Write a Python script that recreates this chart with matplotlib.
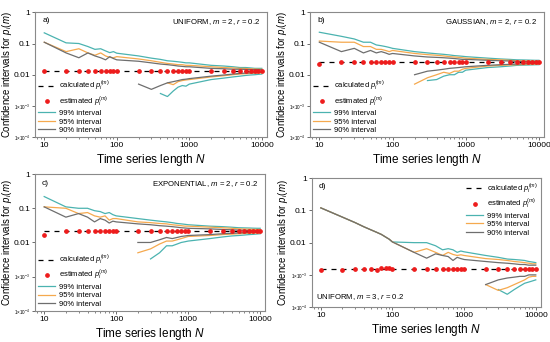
import matplotlib
matplotlib.use("Agg")
import matplotlib.pyplot as plt
from matplotlib.ticker import FixedLocator, LogLocator, NullFormatter

plt.rcParams['font.family'] = ['Liberation Sans', 'DejaVu Sans']
plt.rcParams['mathtext.fontset'] = 'custom'
plt.rcParams['mathtext.it'] = 'Liberation Sans:italic'
plt.rcParams['mathtext.rm'] = 'Liberation Sans'

# time series lengths
N = [10, 20, 30, 40, 50, 60, 70, 80, 90, 100,
     200, 300, 400, 500, 600, 700, 800, 900, 1000,
     2000, 3000, 4000, 5000, 6000, 7000, 8000, 9000, 10000]
N_low = N[10:]  # lower bounds only exist from N=200 on

# ---- a) UNIFORM, m=2
a_calc = 0.013
a_est = [0.013] * 28
a_up99 = [0.22, 0.105, 0.1, 0.08, 0.065, 0.068, 0.058, 0.051, 0.055, 0.049,
          0.04, 0.034, 0.031, 0.028, 0.027, 0.026, 0.025, 0.024, 0.024,
          0.02, 0.019, 0.018, 0.017, 0.017, 0.0165, 0.016, 0.016, 0.016]
a_up95 = [0.11, 0.055, 0.068, 0.05, 0.042, 0.05, 0.04, 0.036, 0.035, 0.038,
          0.032, 0.028, 0.025, 0.023, 0.022, 0.021, 0.021, 0.02, 0.02,
          0.018, 0.017, 0.0165, 0.016, 0.0158, 0.0155, 0.0152, 0.015, 0.015]
a_up90 = [0.11, 0.05, 0.035, 0.05, 0.04, 0.035, 0.03, 0.038, 0.033, 0.03,
          0.027, 0.024, 0.022, 0.021, 0.02, 0.019, 0.0185, 0.018, 0.018,
          0.016, 0.0155, 0.015, 0.015, 0.0148, 0.0147, 0.0146, 0.0145, 0.0145]
a_lo99 = [None, None, 0.0025, 0.002, 0.003, 0.004, 0.0045, 0.0043, 0.005,
          0.007, 0.0078, 0.0085, 0.009, 0.0095, 0.0098, 0.01, 0.0103, 0.0105]
a_lo95 = [None, None, None, 0.0055, 0.0048, 0.006, 0.0065, 0.0068, 0.007,
          0.0085, 0.0093, 0.01, 0.0105, 0.0108, 0.011, 0.0112, 0.0114, 0.0115]
a_lo90 = [0.005, 0.0034, 0.0045, 0.0055, 0.006, 0.0065, 0.007, 0.0072, 0.0075,
          0.009, 0.0098, 0.0105, 0.011, 0.0113, 0.0115, 0.0117, 0.0119, 0.012]

# ---- b) GAUSSIAN, m=2
b_calc = 0.025
b_est = [0.022] + [0.025] * 27
b_up99 = [0.23, 0.17, 0.14, 0.11, 0.11, 0.09, 0.085, 0.08, 0.075, 0.07,
          0.055, 0.05, 0.047, 0.045, 0.043, 0.041, 0.04, 0.039, 0.038,
          0.034, 0.032, 0.031, 0.03, 0.0298, 0.0295, 0.0292, 0.029, 0.029]
b_up95 = [0.12, 0.11, 0.11, 0.08, 0.08, 0.065, 0.065, 0.06, 0.055, 0.06,
          0.048, 0.044, 0.042, 0.04, 0.038, 0.037, 0.036, 0.035, 0.034,
          0.031, 0.03, 0.029, 0.028, 0.0278, 0.0275, 0.0272, 0.027, 0.027]
b_up90 = [0.11, 0.055, 0.07, 0.05, 0.06, 0.05, 0.055, 0.05, 0.045, 0.048,
          0.04, 0.037, 0.036, 0.035, 0.034, 0.033, 0.032, 0.031, 0.031,
          0.029, 0.028, 0.0275, 0.027, 0.0267, 0.0265, 0.0262, 0.026, 0.026]
b_lo99 = [None, 0.0065, 0.007, 0.009, 0.01, 0.01, 0.012, 0.012, 0.014,
          0.017, 0.018, 0.019, 0.02, 0.0203, 0.0205, 0.0207, 0.0209, 0.021]
b_lo95 = [0.005, 0.008, 0.01, 0.012, 0.011, 0.013, 0.013, 0.015, 0.016,
          0.019, 0.02, 0.0205, 0.021, 0.0212, 0.0214, 0.0216, 0.0218, 0.022]
b_lo90 = [0.01, 0.013, 0.014, 0.015, 0.016, 0.0165, 0.017, 0.0175, 0.018,
          0.02, 0.021, 0.0215, 0.022, 0.0223, 0.0225, 0.0227, 0.0229, 0.023]

# ---- c) EXPONENTIAL, m=2
c_calc = 0.021
c_est = [0.017] + [0.021] * 27
c_up99 = [0.22, 0.11, 0.1, 0.1, 0.085, 0.08, 0.07, 0.075, 0.065, 0.06,
          0.05, 0.045, 0.042, 0.04, 0.038, 0.036, 0.035, 0.034, 0.033,
          0.03, 0.029, 0.028, 0.027, 0.0267, 0.0265, 0.0262, 0.026, 0.026]
c_up95 = [0.11, 0.1, 0.07, 0.075, 0.06, 0.055, 0.06, 0.045, 0.05, 0.05,
          0.04, 0.038, 0.036, 0.035, 0.033, 0.032, 0.031, 0.03, 0.03,
          0.028, 0.027, 0.026, 0.025, 0.0247, 0.0245, 0.0242, 0.024, 0.024]
c_up90 = [0.11, 0.055, 0.07, 0.055, 0.04, 0.05, 0.045, 0.037, 0.042, 0.04,
          0.035, 0.033, 0.031, 0.03, 0.029, 0.028, 0.027, 0.0265, 0.026,
          0.025, 0.024, 0.0235, 0.023, 0.0227, 0.0225, 0.0222, 0.022, 0.022]
c_lo99 = [None, 0.0033, 0.005, 0.008, 0.008, 0.009, 0.01, 0.0105, 0.011,
          0.013, 0.0145, 0.0155, 0.016, 0.0165, 0.017, 0.0173, 0.0177, 0.018]
c_lo95 = [0.005, 0.0065, 0.009, 0.011, 0.011, 0.012, 0.013, 0.014, 0.015,
          0.016, 0.017, 0.0175, 0.018, 0.0183, 0.0186, 0.0188, 0.019, 0.019]
c_lo90 = [0.01, 0.01, 0.012, 0.014, 0.013, 0.014, 0.015, 0.0155, 0.016,
          0.017, 0.018, 0.0185, 0.019, 0.0193, 0.0195, 0.0197, 0.0199, 0.02]

# ---- d) UNIFORM, m=3
d_calc = 0.0015
d_est = [0.0014, 0.00145, 0.0015, 0.0015, 0.0015, 0.00145, 0.0016, 0.0016, 0.0016, 0.0015,
         0.0015, 0.0015, 0.0015, 0.0015, 0.0015, 0.0015, 0.0015, 0.0015, 0.0015,
         0.0015, 0.0015, 0.0015, 0.0015, 0.0015, 0.0015, 0.0015, 0.0015, 0.0015]
d_small = [0.12, 0.062, 0.042, 0.031, 0.025, 0.021, 0.018, 0.015, 0.0128, 0.0105]
d_up99 = d_small + [0.01, 0.01, 0.008, 0.006, 0.0065, 0.006, 0.005, 0.0055, 0.0052,
                    0.004, 0.0035, 0.0031, 0.003, 0.0029, 0.0028, 0.0026, 0.0025, 0.0024]
d_up95 = d_small + [0.005, 0.0065, 0.005, 0.004, 0.005, 0.0043, 0.004, 0.0042, 0.004,
                    0.0032, 0.003, 0.0028, 0.0026, 0.0025, 0.0024, 0.0023, 0.0022, 0.0022]
d_up90 = d_small + [0.005, 0.0033, 0.0045, 0.004, 0.0037, 0.0028, 0.0035, 0.0032, 0.003,
                    0.0026, 0.0024, 0.0023, 0.0022, 0.0021, 0.0021, 0.002, 0.002, 0.002]
d_lo99 = [None] * 10 + [0.00035, 0.00025, 0.00035, 0.00045, 0.00055, 0.0006, 0.00065, 0.0007]
d_lo95 = [None] * 9 + [0.0005, 0.00033, 0.0004, 0.0005, 0.0006, 0.0007, 0.00085, 0.0009, 0.0009]
d_lo90 = [None] * 9 + [0.0005, 0.0007, 0.0008, 0.00085, 0.0009, 0.0009, 0.001, 0.001, 0.001]

panels = [
    ("a)", "UNIFORM, $m$ = 2, $r$ = 0.2", a_calc, a_est, a_up99, a_up95, a_up90, a_lo99, a_lo95, a_lo90),
    ("b)", "GAUSSIAN, $m$ = 2, $r$ = 0.2", b_calc, b_est, b_up99, b_up95, b_up90, b_lo99, b_lo95, b_lo90),
    ("c)", "EXPONENTIAL, $m$ = 2, $r$ = 0.2", c_calc, c_est, c_up99, c_up95, c_up90, c_lo99, c_lo95, c_lo90),
    ("d)", "UNIFORM, $m$ = 3, $r$ = 0.2", d_calc, d_est, d_up99, d_up95, d_up90, d_lo99, d_lo95, d_lo90),
]
rects = [[0.064, 0.599, 0.421, 0.365],
         [0.564, 0.599, 0.425, 0.365],
         [0.064, 0.091, 0.418, 0.400],
         [0.567, 0.102, 0.416, 0.377]]
label_x = [-0.093, -0.092, -0.093, -0.094]

teal = "#4bb3b0"
orange = "#f5a94e"
gray = "#6e6e6e"
red = "#ee1c1c"

yticks = [1e-4, 1e-3, 0.01, 0.1, 1]
ylabels = ["1×10$^{-4}$", "1×10$^{-3}$", "0.01", "0.1", "1"]
xticks = [10, 100, 1000, 10000]
xlabels = ["10", "100", "1000", "10000"]

fig = plt.figure(figsize=(5.5, 3.42), dpi=100)

for (tag, title, calc, est, u99, u95, u90, l99, l95, l90), rect, lx in zip(panels, rects, label_x):
    ax = fig.add_axes(rect)
    ax.set_xscale("log")
    ax.set_yscale("log")

    ax.plot(N, [calc] * len(N), "--", color="black", lw=0.9, dashes=(4, 4),
            label="calculated $p_i^{(m)}$", zorder=3)
    ax.plot(N, est, "o", color=red, ms=2.4, lw=0, label="estimated $p_i^{(m)}$", zorder=4)
    ax.plot(N, u99, color=teal, lw=0.9, label="99% interval")
    ax.plot(N, u95, color=orange, lw=0.9, label="95% interval")
    ax.plot(N, u90, color=gray, lw=0.9, label="90% interval")

    for lo, col in [(l99, teal), (l95, orange), (l90, gray)]:
        xs = [n for n, v in zip(N_low, lo) if v is not None]
        ys = [v for v in lo if v is not None]
        ax.plot(xs, ys, color=col, lw=0.9)

    ax.set_xlim(7.5, 11700)
    ax.set_ylim(1e-4, 1)
    ax.yaxis.set_major_locator(FixedLocator(yticks))
    ax.set_yticklabels(ylabels)
    ax.yaxis.set_minor_locator(FixedLocator([]))
    for lab, v in zip(ax.get_yticklabels(), yticks):
        lab.set_fontsize(3.3 if v < 0.005 else 6)
    ax.xaxis.set_major_locator(FixedLocator(xticks))
    ax.set_xticklabels(xlabels, fontsize=6)
    ax.xaxis.set_minor_locator(LogLocator(base=10, subs=range(2, 10)))
    ax.xaxis.set_minor_formatter(NullFormatter())
    ax.tick_params(which="major", length=2.5, width=0.6, pad=1.2, color="#555555")
    ax.tick_params(which="minor", length=1.5, width=0.5, color="#555555")
    for sp in ax.spines.values():
        sp.set_color("#8a8a8a")
        sp.set_linewidth(0.8)

    ax.set_xlabel("Time series length $N$", fontsize=8.5, labelpad=2)
    ax.set_ylabel("Confidence intervals for $p_i(m)$", fontsize=6.9)
    ax.yaxis.set_label_coords(lx, 0.5)

    ax.text(0.03, 0.96, tag, transform=ax.transAxes, fontsize=6, va="top", ha="left")
    if tag == "d)":
        ax.text(0.02, 0.04, title, transform=ax.transAxes, fontsize=5.6, va="bottom", ha="left")
        loc = "upper right"
        anchor = (1.0, 1.0)
    else:
        ax.text(0.97, 0.96, title, transform=ax.transAxes, fontsize=5.6, va="top", ha="right")
        loc = "lower left"
        anchor = (0.0, 0.0)
    ax.legend(loc=loc, bbox_to_anchor=anchor, frameon=False, fontsize=5.5,
              handlelength=2.2, handletextpad=0.5, labelspacing=0.15,
              borderaxespad=0.2, borderpad=0.2)

fig.savefig("out.png", dpi=100)
